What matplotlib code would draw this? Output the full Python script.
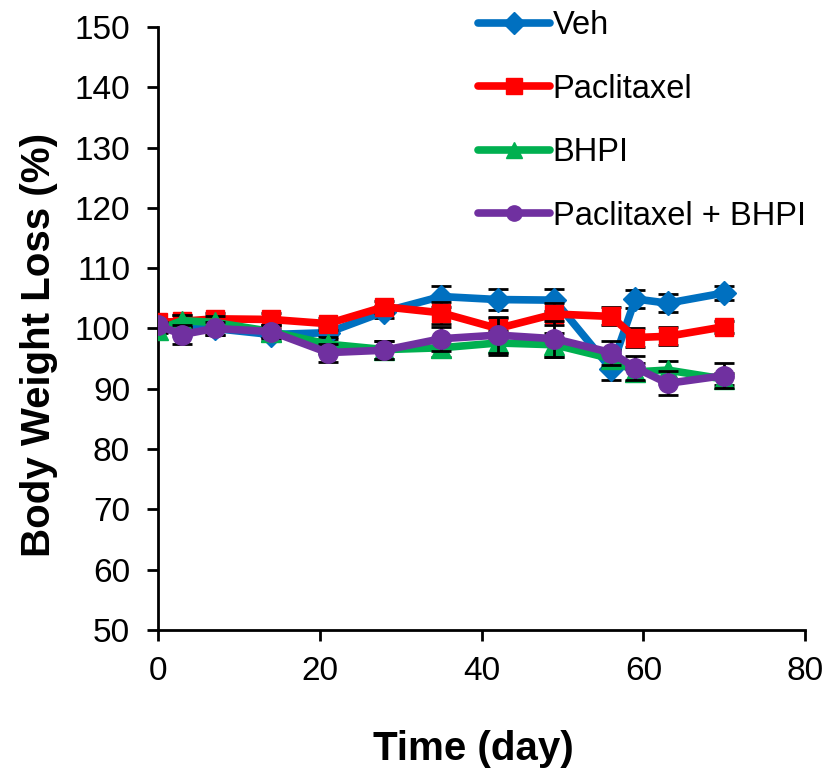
import matplotlib
matplotlib.use("Agg")
import matplotlib.pyplot as plt

plt.rcParams['font.family'] = ['Liberation Sans', 'DejaVu Sans']

days = [0, 3, 7, 14, 21, 28, 35, 42, 49, 56, 59, 63, 70]
veh = [100.0, 100.2, 100.0, 99.0, 99.3, 102.8, 105.3, 104.8, 104.7, 93.3, 104.9, 104.2, 105.9]
veh_err = [0.5, 1.0, 1.0, 1.0, 1.0, 1.0, 1.8, 1.8, 1.8, 1.8, 1.5, 1.5, 1.2]
pac = [101.0, 101.2, 101.6, 101.5, 100.8, 103.6, 102.6, 100.0, 102.4, 102.0, 98.5, 98.7, 100.3]
pac_err = [0.6, 1.0, 1.0, 1.0, 1.0, 1.0, 1.8, 1.8, 1.8, 1.5, 1.5, 1.5, 1.0]
bhpi = [99.8, 101.3, 101.0, 99.5, 97.4, 96.5, 96.8, 97.6, 97.3, 95.0, 92.8, 93.1, 91.6]
bhpi_err = [0.5, 1.0, 1.0, 1.0, 1.2, 1.5, 1.5, 2.0, 2.0, 1.5, 1.5, 1.5, 1.0]
combo = [100.5, 99.0, 100.0, 99.5, 96.0, 96.4, 98.3, 98.9, 98.3, 96.0, 93.5, 90.9, 92.2]
combo_err = [0.5, 1.5, 1.0, 1.0, 1.5, 1.5, 2.0, 3.0, 3.0, 2.0, 2.0, 2.0, 2.0]

series = [
    ("Veh", veh, veh_err, "#0070C0", "D", 12),
    ("Paclitaxel", pac, pac_err, "#FF0000", "s", 13),
    ("BHPI", bhpi, bhpi_err, "#00B050", "^", 14),
    ("Paclitaxel + BHPI", combo, combo_err, "#7030A0", "o", 14),
]

fig = plt.figure(figsize=(8.31, 7.72), dpi=100)
ax = fig.add_axes([0.190, 0.184, 0.779, 0.781])

handles = []
for i, (name, vals, err, col, mk, ms) in enumerate(series):
    ax.errorbar(days, vals, yerr=err, fmt='none', ecolor='black',
                elinewidth=2, capsize=7, capthick=2, zorder=2 + 2 * i)
    h, = ax.plot(days, vals, color=col, marker=mk, markersize=ms, linewidth=5.5,
                 markeredgecolor=col, label=name, zorder=3 + 2 * i,
                 solid_capstyle='round')
    handles.append(h)

ax.set_xlim(0, 80)
ax.set_ylim(50, 150)
ax.set_xticks([0, 20, 40, 60, 80])
ax.set_yticks(list(range(50, 151, 10)))
ax.spines['top'].set_visible(False)
ax.spines['right'].set_visible(False)
ax.spines['left'].set_linewidth(2)
ax.spines['bottom'].set_linewidth(2)
ax.tick_params(axis='both', direction='out', length=8, width=2, labelsize=24)
ax.tick_params(axis='x', pad=11)
ax.tick_params(axis='y', pad=12)
ax.set_xlabel("Time (day)", fontsize=29, fontweight='bold', labelpad=31)
ax.set_ylabel("Body Weight Loss (%)", fontsize=29, fontweight='bold', labelpad=12)
ax.xaxis.label.set_x(0.487)
ax.yaxis.label.set_y(0.473)

leg = fig.legend(handles=handles, loc='upper left', bbox_to_anchor=(0.560, 1.004),
                 frameon=False, fontsize=23.5, labelspacing=1.0, handlelength=2.2,
                 handletextpad=0.08, borderaxespad=0)
for lh in leg.get_lines():
    lh.set_markersize(11)

fig.savefig("out.png", dpi=100)
